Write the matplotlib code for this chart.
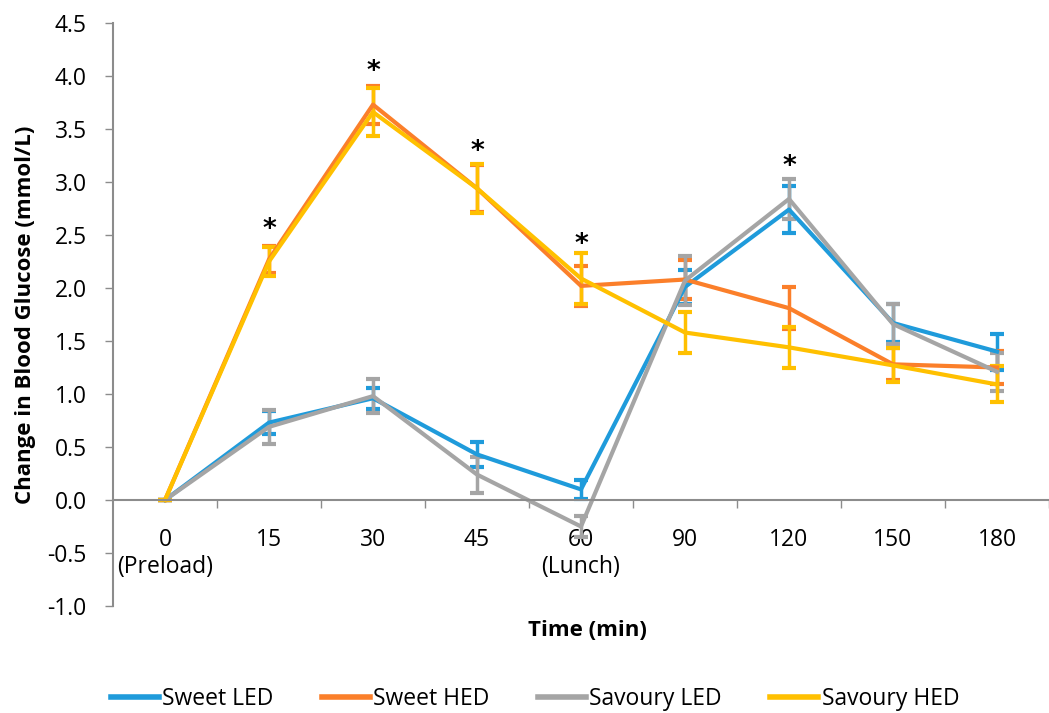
import matplotlib.pyplot as plt
from matplotlib.lines import Line2D

# tijdpunten (categorieen)
time_labels = ['0\n(Preload)', '15', '30', '45', '60\n(Lunch)', '90', '120', '150', '180']

# gemiddelden per conditie
sweet_led = [0.0, 0.73, 0.96, 0.43, 0.10, 2.01, 2.74, 1.67, 1.40]
sweet_hed = [0.0, 2.27, 3.73, 2.94, 2.02, 2.08, 1.81, 1.28, 1.25]
savoury_led = [0.0, 0.69, 0.98, 0.24, -0.25, 2.07, 2.84, 1.66, 1.21]
savoury_hed = [0.0, 2.25, 3.66, 2.94, 2.09, 1.58, 1.44, 1.27, 1.09]

# standaardfouten
sweet_led_err = [0.0, 0.11, 0.10, 0.12, 0.09, 0.16, 0.22, 0.18, 0.17]
sweet_hed_err = [0.0, 0.13, 0.18, 0.22, 0.19, 0.18, 0.20, 0.15, 0.16]
savoury_led_err = [0.0, 0.16, 0.16, 0.17, 0.10, 0.23, 0.19, 0.19, 0.18]
savoury_hed_err = [0.0, 0.14, 0.23, 0.23, 0.24, 0.19, 0.19, 0.16, 0.17]

# significantie sterretjes
star_idx = [1, 2, 3, 4, 6]
star_y = [2.55, 4.04, 3.28, 2.41, 3.14]

plt.rcParams['font.family'] = ['Open Sans', 'DejaVu Sans']

fig = plt.figure(figsize=(10.49, 7.13), dpi=100)
ax = fig.add_axes([113 / 1049, 1 - 606 / 713, (1049 - 113) / 1049, (606 - 23) / 713])

x = list(range(len(time_labels)))
series = [
    ('Sweet LED', sweet_led, sweet_led_err, '#1F9BDB'),
    ('Sweet HED', sweet_hed, sweet_hed_err, '#FB7F2A'),
    ('Savoury LED', savoury_led, savoury_led_err, '#A5A5A5'),
    ('Savoury HED', savoury_hed, savoury_hed_err, '#FFC000'),
]
handles = []
for name, vals, err, col in series:
    ax.errorbar(x, vals, yerr=err, color=col, lw=3, elinewidth=2.5,
                capsize=5, capthick=3)
    handles.append(Line2D([], [], color=col, lw=4, label=name))

for i, yv in zip(star_idx, star_y):
    ax.text(i, yv, '*', ha='center', va='center', fontsize=19, color='black',
            family='DejaVu Sans', fontweight='bold')

# assen
ax.set_ylim(-1.0, 4.5)
ax.set_xlim(-0.5, (1049 - 165) / 105)
ax.set_yticks([-1.0, -0.5, 0.0, 0.5, 1.0, 1.5, 2.0, 2.5, 3.0, 3.5, 4.0, 4.5])
ax.set_yticklabels(['%.1f' % v for v in ax.get_yticks()])
ax.set_xticks(x)
ax.set_xticklabels(time_labels, linespacing=1.4)
ax.set_xticks([i + 0.5 for i in x], minor=True)

for s in ['top', 'right']:
    ax.spines[s].set_visible(False)
ax.spines['left'].set_color('#8C8C8C')
ax.spines['left'].set_linewidth(1.5)
ax.spines['bottom'].set_position(('data', 0))
ax.spines['bottom'].set_color('#8C8C8C')
ax.spines['bottom'].set_linewidth(1.5)

ax.tick_params(axis='y', length=6, width=1, color='#8C8C8C', labelsize=16.5, pad=13)
ax.tick_params(axis='x', which='major', length=0, labelsize=16.5, pad=20)
ax.tick_params(axis='x', which='minor', length=6, width=1, color='#8C8C8C')

ax.set_ylabel('Change in Blood Glucose (mmol/L)', fontsize=16, fontweight='bold', labelpad=8)
fig.text(587 / 1049, 1 - 630 / 713, 'Time (min)', ha='center', va='center',
         fontsize=16, fontweight='bold')

fig.legend(handles=handles, loc='center', bbox_to_anchor=(0.51, 1 - 699 / 713), ncol=4,
           frameon=False, fontsize=16.5, handlelength=2.1, handletextpad=0.15,
           columnspacing=2.1)

plt.savefig('out.png', dpi=100)
